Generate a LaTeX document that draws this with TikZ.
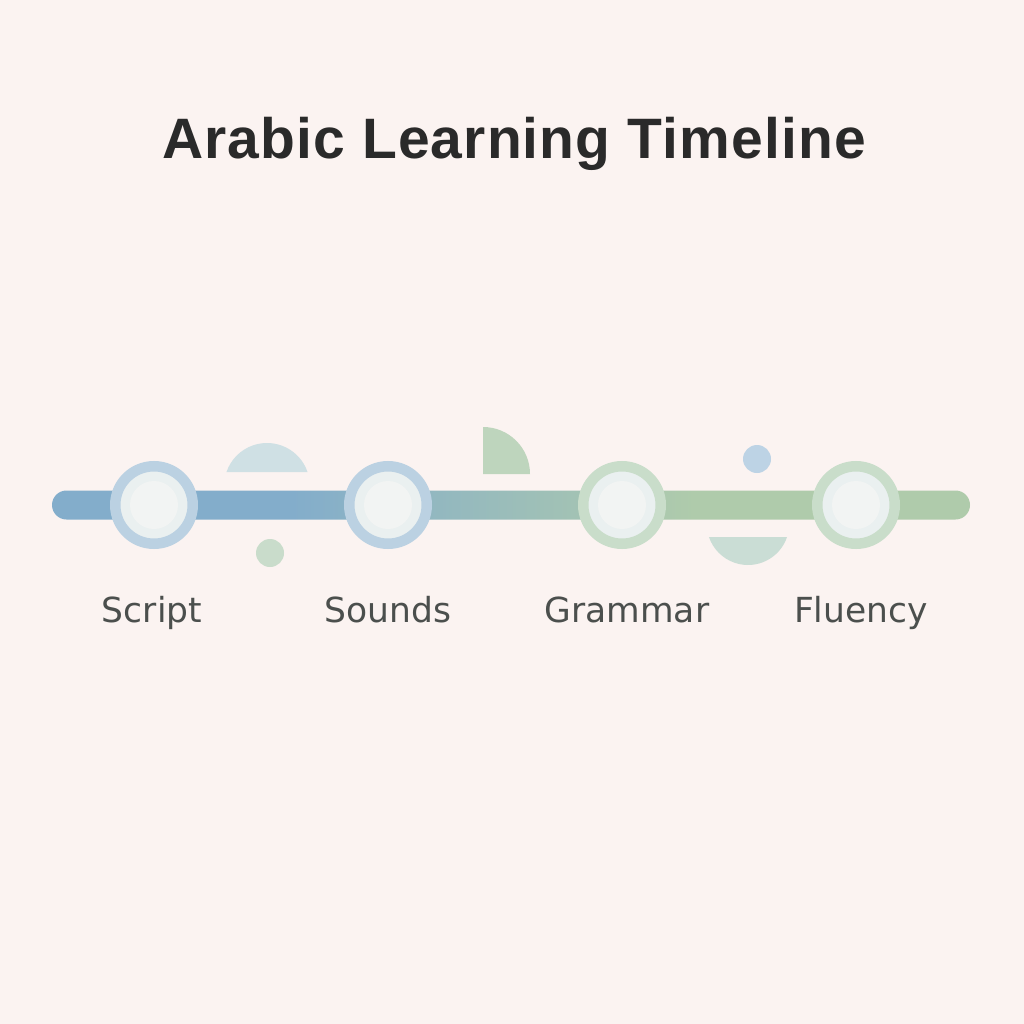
\documentclass[tikz,border=0pt]{standalone}
\usepackage{fontspec}
\setmainfont{DejaVu Sans}
\newfontfamily\titlefont[LetterSpace=2]{Liberation Sans}
\usetikzlibrary{positioning}

\definecolor{bgpink}{HTML}{FBF3F1}
\definecolor{barblue}{HTML}{83ADCB}
\definecolor{bargreen}{HTML}{AFCBAB}
\definecolor{ringblue}{HTML}{BBD1E2}
\definecolor{ringgreen}{HTML}{C9DDCA}
\definecolor{ringin}{HTML}{EAF0F0}
\definecolor{ringcore}{HTML}{F2F4F3}
\definecolor{segblue}{HTML}{CFE0E4}
\definecolor{seggreen}{HTML}{CADDD5}
\definecolor{dotgreen}{HTML}{C9DCCB}
\definecolor{dotblue}{HTML}{BDD3E5}
\definecolor{quartgreen}{HTML}{BED5BD}
\definecolor{lbltext}{HTML}{4B4F4D}
\definecolor{titletext}{HTML}{2A2A2A}

\pgfdeclarehorizontalshading{barshade}{100bp}{color(0bp)=(barblue); color(38bp)=(barblue); color(60bp)=(bargreen); color(100bp)=(bargreen)}

\begin{document}
\begin{tikzpicture}[x=1pt,y=-1pt,node distance=234pt,on grid,
   stage/.style={circle,draw=#1,line width=10.5pt,fill=ringin,minimum size=77.5pt,inner sep=0pt,
      path picture={\fill[ringcore] (path picture bounding box.center) circle (24pt);}},
   lbl/.style={text=lbltext,font=\fontsize{34.5}{40}\selectfont,anchor=base}]
   \useasboundingbox[fill=bgpink] (0,0) rectangle (1024,1024);
   \node[text=titletext,font=\titlefont\bfseries\fontsize{57}{64}\selectfont,anchor=base] (title) at (514,159) {Arabic Learning Timeline};
   % bar
   \shade[shading=barshade,rounded corners=14.5pt] (52,490.5) rectangle (970,519.5);
   % small shapes round the bar
   \fill[segblue] (267,485.8) ++(-18.8:42.8) arc[start angle=-18.8,end angle=-161.2,radius=42.8] -- cycle;
   \fill[dotgreen] (270,553) circle (14);
   \fill[quartgreen] (483,474) -- ++(0:47) arc[start angle=0,end angle=-90,radius=47] -- cycle;
   \fill[dotblue] (757,459) circle (14);
   \fill[seggreen] (748,523.8) ++(18.7:41.2) arc[start angle=18.7,end angle=161.3,radius=41.2] -- cycle;
   % stages
   \node[stage=ringblue] (s1) at (154,505) {};
   \node[stage=ringblue] (s2) [right=of s1] {};
   \node[stage=ringgreen] (s3) [right=of s2] {};
   \node[stage=ringgreen] (s4) [right=of s3] {};
   \node[lbl] (l1) at (152,622) {Script};
   \node[lbl] (l2) at (s2.center |- 0,622) {Sounds};
   \node[lbl] (l3) at (627,622) {Grammar};
   \node[lbl] (l4) at (861,622) {Fluency};
\end{tikzpicture}
\end{document}
